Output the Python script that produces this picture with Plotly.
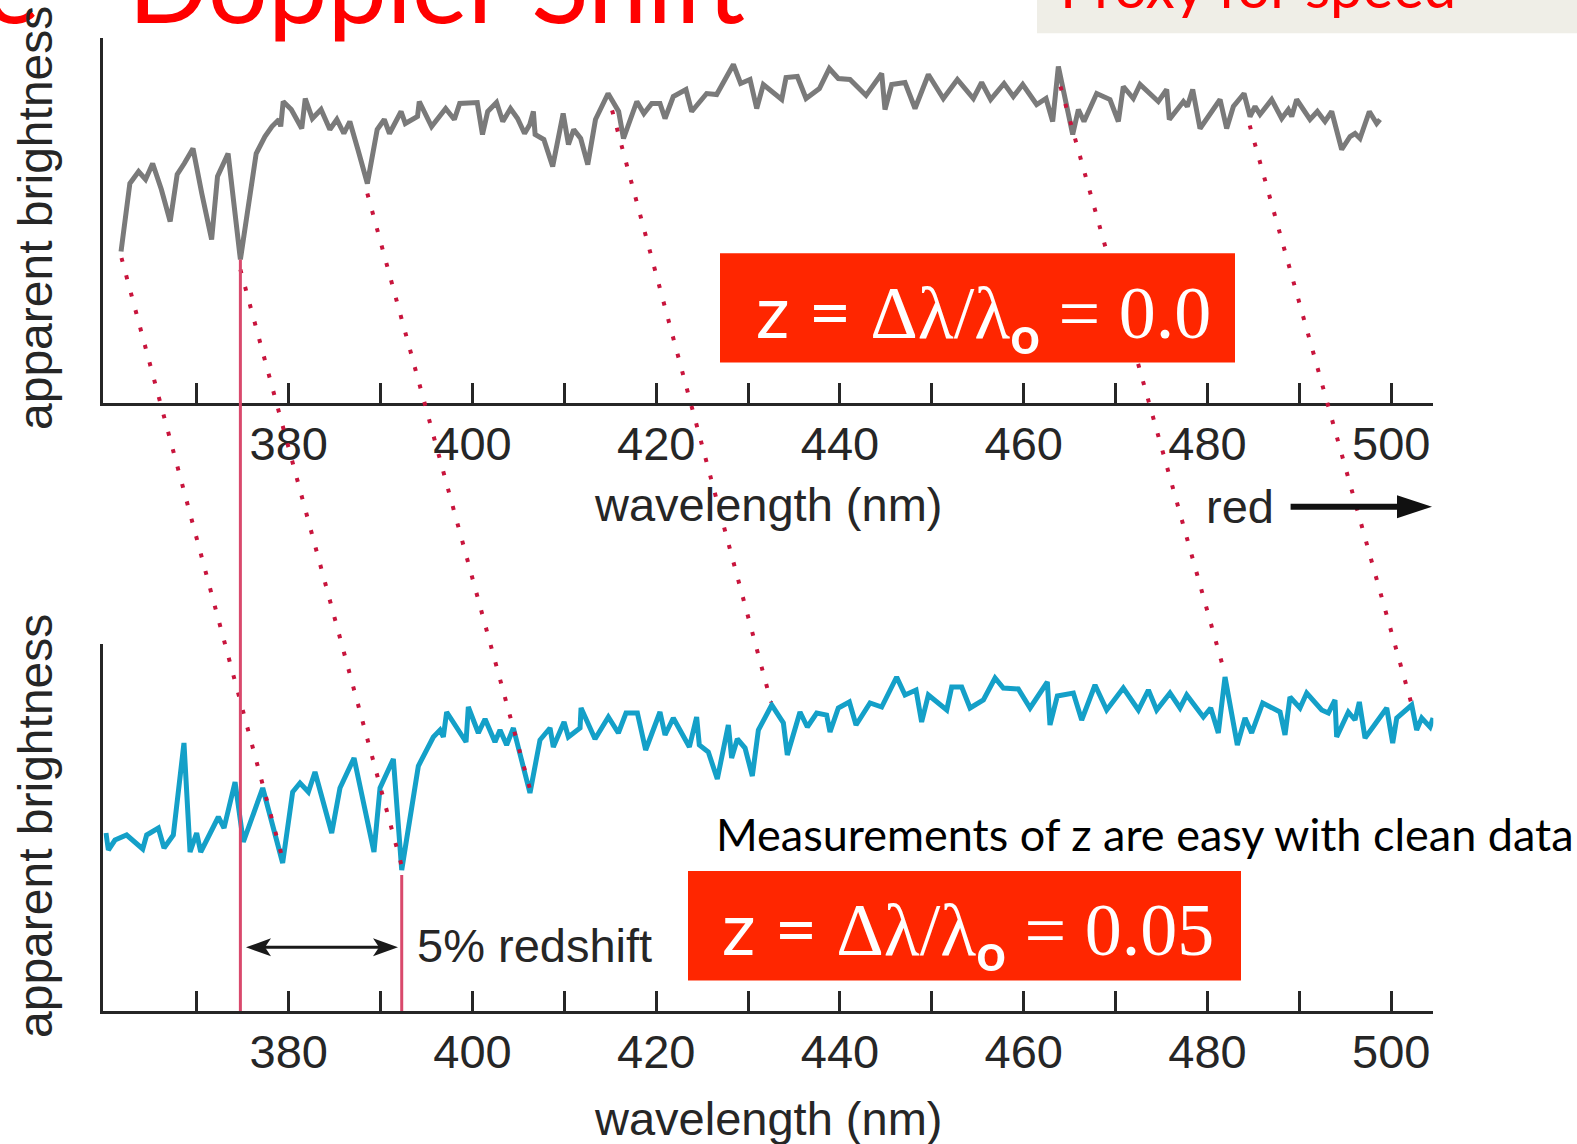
import numpy as np
import plotly.graph_objects as go

W, H = 1577, 1144

# Spectrum at rest (top panel): wavelength (nm) and apparent brightness (arb. units)
REST_NM = [361.75, 362.71, 363.66, 364.42, 365.19, 366.14, 367.10, 367.86, 368.63, 369.58,
           370.54, 371.61, 372.25, 373.40, 374.74, 375.69, 376.46, 377.41, 378.17, 378.94,
           379.13, 379.40, 380.28, 381.42, 381.80, 382.57, 382.95, 383.52, 384.48, 385.24,
           386.00, 386.65, 387.53, 388.56, 389.63, 390.40, 390.97, 391.73, 392.23, 392.69,
           394.02, 394.21, 395.55, 397.08, 398.03, 398.61, 400.52, 401.09, 401.66, 402.62,
           403.30, 404.14, 404.91, 405.67, 406.24, 406.63, 406.82, 407.77, 408.73, 409.87,
           410.45, 411.02, 411.78, 412.55, 413.39, 414.76, 415.91, 416.44, 417.89, 418.66,
           419.51, 420.41, 420.96, 421.86, 423.24, 423.86, 425.49, 426.58, 428.40, 429.19,
           430.21, 430.94, 431.66, 433.66, 434.13, 435.36, 436.31, 437.76, 438.84, 439.82,
           441.09, 442.84, 444.54, 444.90, 445.63, 447.08, 448.17, 449.62, 451.25, 452.78,
           454.52, 455.42, 456.40, 457.86, 458.87, 459.89, 461.41, 462.43, 463.15, 463.77,
           465.33, 465.95, 466.56, 467.94, 469.39, 470.30, 470.84, 471.93, 472.66, 474.65,
           475.56, 475.85, 477.38, 477.81, 478.39, 479.19, 481.37, 482.09, 482.82, 483.98,
           484.63, 485.18, 485.72, 486.99, 488.08, 488.80, 489.17, 489.71, 491.16, 491.96,
           492.79, 493.52, 494.61, 495.52, 496.06, 496.60, 497.62, 498.42, 498.78]
REST_B = [1.51, 2.19, 2.31, 2.23, 2.39, 2.13, 1.81, 2.28, 2.39, 2.54,
          2.09, 1.63, 2.26, 2.49, 1.43, 2.03, 2.49, 2.66, 2.76, 2.83,
          2.76, 3.01, 2.93, 2.74, 3.04, 2.84, 2.88, 2.93, 2.73, 2.83,
          2.69, 2.81, 2.53, 2.19, 2.73, 2.83, 2.69, 2.83, 2.91, 2.79,
          2.86, 3.01, 2.76, 2.94, 2.83, 2.99, 3.00, 2.68, 2.91, 3.00,
          2.81, 2.94, 2.84, 2.69, 2.78, 2.91, 2.68, 2.63, 2.36, 2.89,
          2.58, 2.73, 2.64, 2.38, 2.83, 3.09, 2.91, 2.64, 3.01, 2.89,
          2.99, 2.99, 2.84, 3.06, 3.13, 2.91, 3.09, 3.08, 3.38, 3.19,
          3.23, 2.94, 3.18, 3.03, 3.25, 3.26, 3.04, 3.14, 3.34, 3.24,
          3.23, 3.07, 3.29, 2.93, 3.18, 3.20, 2.94, 3.28, 3.04, 3.23,
          3.04, 3.20, 3.03, 3.19, 3.06, 3.18, 2.98, 3.04, 2.81, 3.36,
          2.68, 2.93, 2.81, 3.09, 3.03, 2.81, 3.16, 3.04, 3.18, 3.01,
          3.13, 2.83, 3.01, 2.96, 3.13, 2.74, 3.03, 2.74, 2.96, 3.09,
          2.86, 2.96, 2.88, 3.03, 2.84, 2.93, 2.86, 3.03, 2.83, 2.91,
          2.81, 2.91, 2.53, 2.66, 2.69, 2.64, 2.91, 2.79, 2.83]

# Redshifted spectrum (bottom panel)
SHIFT_NM = [360.11, 360.37, 361.09, 362.36, 364.11, 364.54, 365.81, 366.43, 367.44, 368.60,
            369.26, 369.98, 370.42, 372.34, 372.96, 374.16, 375.06, 377.17, 379.34, 380.43,
            381.23, 382.14, 382.86, 384.68, 385.58, 387.11, 389.28, 389.94, 391.39, 392.30,
            394.11, 395.74, 396.47, 396.83, 397.19, 399.30, 399.55, 400.64, 401.37, 402.45,
            403.00, 403.72, 404.45, 406.26, 407.35, 408.44, 408.80, 409.97, 410.44, 411.71,
            411.82, 413.34, 414.79, 415.88, 416.71, 417.95, 418.85, 420.41, 420.96, 421.86,
            423.61, 424.40, 424.69, 425.67, 426.65, 427.85, 428.21, 428.83, 429.67, 430.46,
            431.12, 432.57, 433.84, 434.27, 435.65, 436.45, 437.47, 438.55, 438.92, 439.82,
            441.02, 441.75, 443.27, 444.54, 446.17, 447.08, 448.28, 448.89, 449.62, 451.62,
            452.16, 453.25, 454.16, 455.61, 456.88, 457.78, 459.41, 460.69, 462.57, 462.86,
            463.66, 465.40, 466.31, 467.76, 469.03, 470.84, 472.48, 473.57, 474.47, 475.92,
            477.01, 477.74, 479.55, 480.35, 481.18, 481.91, 483.25, 484.09, 484.81, 486.01,
            487.90, 488.44, 488.98, 490.07, 490.80, 492.43, 493.16, 493.88, 494.06, 495.33,
            496.06, 496.53, 497.15, 499.51, 500.16, 500.60, 502.23, 502.77, 503.32, 504.22,
            504.55]
SHIFT_B = [1.78, 1.61, 1.71, 1.76, 1.62, 1.76, 1.83, 1.63, 1.76, 2.68,
           1.59, 1.78, 1.59, 1.94, 1.83, 2.29, 1.69, 2.23, 1.48, 2.19,
           2.28, 2.19, 2.39, 1.78, 2.23, 2.53, 1.59, 2.23, 2.52, 1.41,
           2.45, 2.74, 2.81, 2.74, 2.99, 2.69, 3.04, 2.78, 2.92, 2.69,
           2.81, 2.66, 2.83, 2.18, 2.71, 2.83, 2.64, 2.89, 2.74, 2.83,
           3.03, 2.72, 2.94, 2.78, 2.98, 2.98, 2.61, 2.99, 2.76, 2.93,
           2.64, 2.94, 2.66, 2.59, 2.32, 2.86, 2.53, 2.72, 2.63, 2.35,
           2.81, 3.06, 2.88, 2.56, 2.99, 2.84, 2.98, 2.96, 2.79, 3.03,
           3.09, 2.86, 3.08, 3.04, 3.34, 3.16, 3.21, 2.89, 3.16, 3.01,
           3.24, 3.24, 3.03, 3.11, 3.33, 3.23, 3.22, 3.03, 3.29, 2.86,
           3.15, 3.18, 2.91, 3.26, 3.01, 3.23, 3.01, 3.21, 3.01, 3.18,
           3.03, 3.16, 2.94, 3.03, 2.78, 3.34, 2.66, 2.93, 2.78, 3.08,
           2.99, 2.76, 3.14, 3.03, 3.18, 3.01, 2.98, 3.11, 2.74, 2.99,
           2.91, 3.09, 2.73, 3.03, 2.68, 2.93, 3.06, 2.81, 2.93, 2.84,
           2.93]

# Wavelength axis: labelled ticks every 20 nm, plain ticks in between
TICK_NM = [380, 400, 420, 440, 460, 480, 500]
TICK_TEXT = ["380", "400", "420", "440", "460", "480", "500"]
MINOR_TICK_NM = [370, 390, 410, 430, 450, 470, 490]

# Matching spectral features: rest wavelength -> observed wavelength (nm)
LINE_REST_NM = [361.8, 374.74, 388.56, 415.2, 464.0, 484.6]
LINE_OBS_NM = [379.34, 392.30, 406.26, 432.5, 481.9, 502.5]

# Highlighted absorption line at rest and after the shift
MARK_REST_NM = 374.74
MARK_OBS_NM = 392.30

# Redshift values quoted in the two panels
Z_TEXT = ["0.0", "0.05"]

# ---------------------------------------------------------------- geometry
X_RANGE = [359.83, 504.58]
X_DOM = [103.4 / W, 1433.3 / W]
TOP_DOM = [1 - 402.5 / H, 1 - 38.2 / H]
BOT_DOM = [1 - 1011.0 / H, 1 - 643.6 / H]
TOP_RANGE = [0, 3.643]
BOT_RANGE = [0, 3.674]


def px(x):
    return x / W


def py(y):
    return 1 - y / H


def top_paper(b):
    return TOP_DOM[0] + b / TOP_RANGE[1] * (TOP_DOM[1] - TOP_DOM[0])


def bot_paper(b):
    return BOT_DOM[0] + b / BOT_RANGE[1] * (BOT_DOM[1] - BOT_DOM[0])


INK = "#262626"
SANS = "Liberation Sans"

fig = go.Figure()
fig.add_trace(go.Scatter(x=REST_NM, y=REST_B, xaxis="x", yaxis="y", mode="lines",
                         line=dict(color="#7a7a7a", width=5), hoverinfo="skip"))
fig.add_trace(go.Scatter(x=SHIFT_NM, y=SHIFT_B, xaxis="x2", yaxis="y2", mode="lines",
                         line=dict(color="#14a0c8", width=5), hoverinfo="skip"))

xcommon = dict(domain=X_DOM, range=X_RANGE, showline=True, linecolor=INK, linewidth=3,
               ticks="inside", ticklen=20, tickwidth=2.5, tickcolor=INK,
               tickmode="array", tickvals=TICK_NM, ticktext=TICK_TEXT,
               minor=dict(ticks="inside", ticklen=20, tickwidth=2.5, tickcolor=INK,
                          tickmode="array", tickvals=MINOR_TICK_NM, showgrid=False),
               tickfont=dict(family=SANS, size=47, color=INK), ticklabelstandoff=-2,
               showgrid=False, zeroline=False, fixedrange=True)
ycommon = dict(showline=True, linecolor=INK, linewidth=3, ticks="", showticklabels=False,
               showgrid=False, zeroline=False, fixedrange=True)

fig.update_layout(
    width=W, height=H, margin=dict(l=0, r=0, t=0, b=0),
    paper_bgcolor="white", plot_bgcolor="white", showlegend=False,
    xaxis=dict(anchor="y", **xcommon),
    yaxis=dict(anchor="x", domain=TOP_DOM, range=TOP_RANGE, **ycommon),
    xaxis2=dict(anchor="y2", **xcommon),
    yaxis2=dict(anchor="x2", domain=BOT_DOM, range=BOT_RANGE, **ycommon),
)

shapes = []
# slide header band
shapes.append(dict(type="rect", xref="paper", yref="paper", x0=px(1037), x1=px(1577),
                   y0=py(33.2), y1=py(0), fillcolor="#efeee7", line=dict(width=0), layer="below"))

# dotted guides joining each feature to its shifted counterpart
for r, o in zip(LINE_REST_NM, LINE_OBS_NM):
    y0 = top_paper(float(np.interp(r, REST_NM, REST_B)) - 0.1)
    y1 = bot_paper(float(np.interp(o, SHIFT_NM, SHIFT_B)) + 0.04)
    shapes.append(dict(type="line", xref="x", yref="paper", x0=r, x1=o, y0=y0, y1=y1,
                       line=dict(color="#c8143c", width=4, dash="4px,14px"), layer="above"))

# solid markers for the highlighted line
shapes.append(dict(type="line", xref="x", yref="paper", x0=MARK_REST_NM, x1=MARK_REST_NM,
                   y0=BOT_DOM[0], y1=top_paper(float(np.interp(MARK_REST_NM, REST_NM, REST_B))),
                   line=dict(color="#d9496c", width=3), layer="above"))
shapes.append(dict(type="line", xref="x", yref="paper", x0=MARK_OBS_NM, x1=MARK_OBS_NM,
                   y0=BOT_DOM[0],
                   y1=bot_paper(float(np.interp(MARK_OBS_NM, SHIFT_NM, SHIFT_B)) - 0.05),
                   line=dict(color="#d9496c", width=3), layer="above"))


def poly(points, color):
    d = "M " + " L ".join(f"{px(x):.5f},{py(y):.5f}" for x, y in points) + " Z"
    return dict(type="path", xref="paper", yref="paper", path=d, fillcolor=color,
                line=dict(width=0), layer="above")


# double-headed arrow for the shift
ay = 947.3
shapes.append(dict(type="line", xref="paper", yref="paper", x0=px(258), x1=px(386),
                   y0=py(ay), y1=py(ay), line=dict(color="#1a1a1a", width=3), layer="above"))
shapes.append(poly([(246, ay), (271, ay - 9), (265, ay), (271, ay + 9)], "#1a1a1a"))
shapes.append(poly([(398, ay), (373, ay - 9), (379, ay), (373, ay + 9)], "#1a1a1a"))

# "red" direction arrow
ry = 506.7
shapes.append(dict(type="line", xref="paper", yref="paper", x0=px(1290.6), x1=px(1402),
                   y0=py(ry), y1=py(ry), line=dict(color="#111111", width=6), layer="above"))
shapes.append(poly([(1432, ry), (1397, ry - 11.5), (1397, ry + 11.5)], "#111111"))

# redshift boxes
shapes.append(dict(type="rect", xref="paper", yref="paper", x0=px(720), x1=px(1235),
                   y0=py(362.5), y1=py(253.3), fillcolor="#ff2600", line=dict(width=0), layer="above"))
shapes.append(dict(type="rect", xref="paper", yref="paper", x0=px(688), x1=px(1241),
                   y0=py(980.6), y1=py(871), fillcolor="#ff2600", line=dict(width=0), layer="above"))


def label(text, x, y, size, color=INK, family=SANS, xanchor="center", angle=0):
    return dict(text=text, x=px(x), y=py(y), xref="paper", yref="paper", showarrow=False,
                font=dict(family=family, size=size, color=color), xanchor=xanchor,
                yanchor="middle", textangle=angle)


def z_text(z):
    return ('<span style="font-family:Lato">z =</span> '
            '<span style="font-family:Liberation Serif">\u0394\u03bb/\u03bb</span>'
            '<sub><b>o</b></sub>'
            f'<span style="font-family:Liberation Serif"> = {z}</span>')


annotations = [
    label("The", 42, -18, 106, color="#ff0000", family="Lato", xanchor="right"),
    label("Doppler Shift", 126, -18, 106, color="#ff0000", family="Lato", xanchor="left"),
    label("Proxy for speed", 1058, -14, 58, color="#ff0000", family="Lato", xanchor="left"),
    label("apparent brightness", 36, 218, 48, angle=-90),
    label("apparent brightness", 36, 826, 48, angle=-90),
    label("wavelength (nm)", 768.4, 504, 47),
    label("wavelength (nm)", 768.4, 1118, 47),
    label("red", 1239.5, 506, 47),
    label("5% redshift", 415, 945, 47, xanchor="left"),
    label("Measurements of z are easy with clean data", 714, 834, 45, color="#000000",
          family="Lato", xanchor="left"),
    label(z_text(Z_TEXT[0]), 983, 315, 74, color="#ffffff", family="Lato"),
    label(z_text(Z_TEXT[1]), 968, 932, 74, color="#ffffff", family="Lato"),
]

fig.update_layout(shapes=shapes, annotations=annotations)
fig.write_html("out.html")
